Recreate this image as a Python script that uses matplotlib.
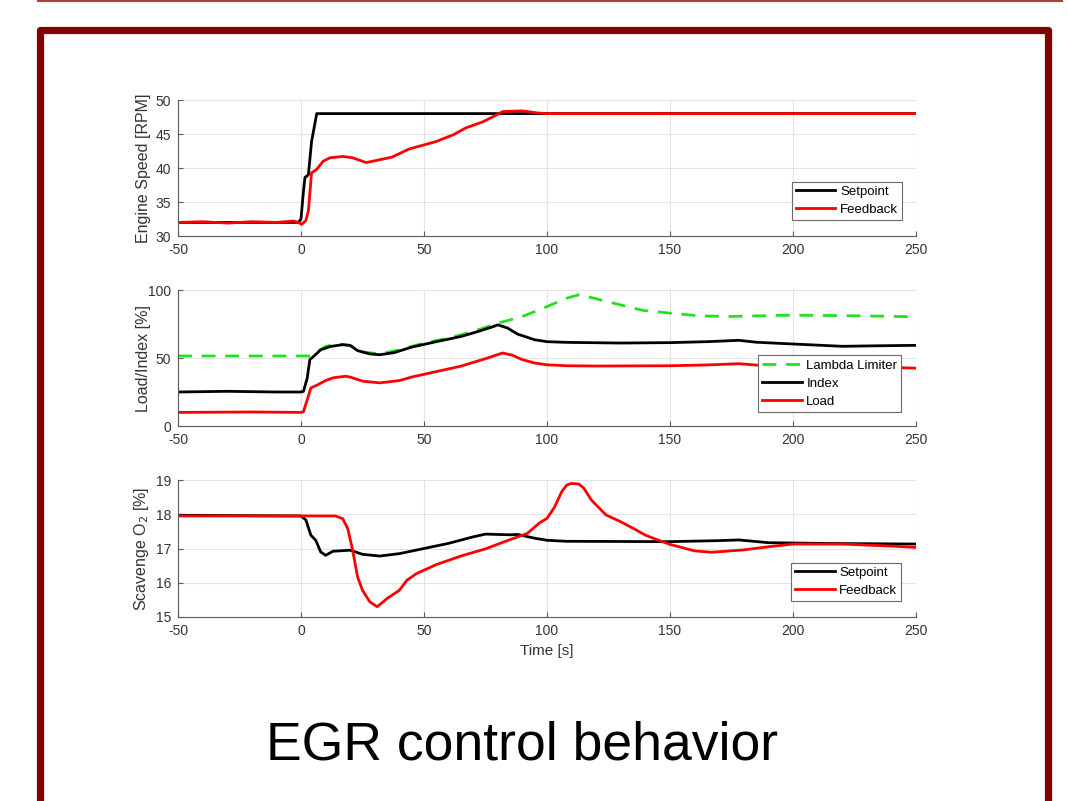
import matplotlib
matplotlib.use("Agg")
import matplotlib.pyplot as plt
from matplotlib.patches import Rectangle
from matplotlib.lines import Line2D

plt.rcParams["font.family"] = ["Liberation Sans", "DejaVu Sans"]
plt.rcParams["axes.unicode_minus"] = False

# ---------------------------------------------------------------- data
x_ticks = [-50, 0, 50, 100, 150, 200, 250]

# engine speed
t_rpm_sp = [-50, -1, 0, 1, 1.6, 3, 4.3, 6.4, 250]
rpm_sp = [32, 32, 32.5, 36.6, 38.6, 39, 43.9, 48, 48]
t_rpm_fb = [-50, -40, -30, -20, -10, -3, -1, 0.3, 2, 3, 4.3, 6.4, 9, 11.8, 17, 21,
            26.5, 30.5, 37, 44, 50, 55, 62, 67, 74, 80, 82, 90, 96, 100, 150, 200, 250]
rpm_fb = [32, 32.1, 31.9, 32.1, 32, 32.2, 32, 31.7, 32.3, 33.7, 39.3, 39.8, 41, 41.5, 41.7, 41.5,
          40.8, 41.1, 41.6, 42.8, 43.4, 43.9, 44.9, 45.9, 46.8, 47.9, 48.3, 48.4, 48.1, 48, 48, 48, 48]

# load / index
t_lam = [-50, 4, 10, 15, 20, 25, 32, 40, 50, 60, 70, 80, 90, 100, 108, 113, 119, 130,
         139, 150, 162, 173, 200, 227, 250]
lam = [51.5, 51.5, 58.5, 60.5, 59, 54.5, 53, 56, 61, 64.6, 69.5, 75.6, 80.5, 87.8, 94, 96.5, 94, 89,
       85, 83, 81, 80.5, 81.5, 81, 80.3]
t_idx = [-50, -30, -10, 0, 1, 2.5, 3.6, 5, 8, 12, 17, 20, 23, 28, 32, 38, 45, 55, 65, 72, 78,
         80, 84, 88, 95, 100, 108, 130, 150, 165, 178, 185, 200, 220, 235, 250]
idx = [25, 25.5, 25, 25, 25.5, 35, 48.8, 51, 56, 58.5, 59.8, 59.3, 55.4, 53, 52.4, 54, 58, 62, 65.8,
       69.5, 73, 74.4, 72, 67.6, 63.4, 62, 61.5, 61, 61.3, 62, 63, 61.6, 60.3, 58.6, 59, 59.3]
t_load = [-50, -20, 0, 1, 3, 4, 7, 10, 13, 18, 20, 25, 32, 40, 45, 55, 65, 75, 82, 86, 90, 95,
          100, 108, 120, 150, 165, 178, 185, 200, 225, 240, 250]
load = [10, 10.3, 10, 10.5, 22, 28, 30.5, 33.4, 35.4, 36.6, 36, 33, 31.7, 33.4, 36, 40, 44, 49.5,
        53.7, 52, 48.8, 46.3, 45, 44.3, 44.1, 44.3, 44.9, 45.8, 44.8, 44.2, 43.8, 43.1, 42.5]

# scavenge O2
t_o2_sp = [-50, 0, 2, 4, 6, 8, 10, 13, 20, 25, 32, 40, 50, 60, 70, 75, 85, 88, 95, 100, 108,
           150, 170, 178, 190, 210, 250]
o2_sp = [17.97, 17.95, 17.83, 17.39, 17.24, 16.9, 16.8, 16.92, 16.95, 16.83, 16.78, 16.85, 17.0,
         17.15, 17.34, 17.42, 17.4, 17.41, 17.3, 17.24, 17.21, 17.2, 17.23, 17.25, 17.17, 17.15, 17.13]
t_o2_fb = [-50, 14, 17, 19, 21, 23, 25, 28, 31, 35, 40, 43, 47, 55, 65, 75, 85, 92, 97, 100, 103,
           106, 108, 110, 113, 115, 118, 120, 124, 130, 135, 140, 145, 150, 160, 167, 180, 190,
           200, 220, 240, 250]
o2_fb = [17.95, 17.95, 17.87, 17.58, 16.95, 16.17, 15.78, 15.44, 15.3, 15.54, 15.78, 16.07, 16.27,
         16.53, 16.78, 16.99, 17.26, 17.44, 17.75, 17.88, 18.2, 18.66, 18.85, 18.9, 18.88, 18.76,
         18.42, 18.27, 17.98, 17.78, 17.59, 17.39, 17.25, 17.12, 16.93, 16.89, 16.96, 17.05, 17.13,
         17.13, 17.07, 17.03]

# ---------------------------------------------------------------- figure
W, H = 1068, 801
fig = plt.figure(figsize=(W / 100, H / 100), dpi=100)
fig.patch.set_facecolor("white")

# slide frame
frame = "#840000"
fig.add_artist(Line2D([38 / W, 1062 / W], [1 - 1 / H, 1 - 1 / H], color="#b04040", lw=1.5,
                      transform=fig.transFigure))
fig.add_artist(Rectangle((40 / W, -0.05), 1008 / W, 1.05 - 30.5 / H, fill=False, edgecolor=frame,
                         lw=5.2, joinstyle="round", transform=fig.transFigure))


def style_axis(ax, ylim, yticks, ylabel):
    ax.set_xlim(-50, 250)
    ax.set_ylim(*ylim)
    ax.set_xticks(x_ticks)
    ax.set_yticks(yticks)
    ax.grid(True, color="#e3e3e3", lw=0.8)
    ax.set_axisbelow(True)
    for s in ("top", "right"):
        ax.spines[s].set_visible(False)
    for s in ("left", "bottom"):
        ax.spines[s].set_color("#5a5a5a")
        ax.spines[s].set_linewidth(0.8)
    ax.tick_params(direction="in", length=3.5, width=0.8, color="#5a5a5a",
                   labelsize=10, labelcolor="#333333", pad=5)
    ax.set_ylabel(ylabel, fontsize=11.5, color="#333333")
    ax.yaxis.set_label_coords(-(178 - 151) / 738, 0.5)


def add_legend(ax, anchor):
    leg = ax.legend(loc="lower right", bbox_to_anchor=anchor, borderaxespad=0, fontsize=9.5,
                    fancybox=False, edgecolor="#6a6a6a", framealpha=1, handlelength=3.0,
                    handletextpad=0.35, labelspacing=0.45, borderpad=0.3)
    leg.get_frame().set_linewidth(0.8)


left, width = 178 / W, 738 / W
ax1 = fig.add_axes([left, 1 - 236 / H, width, 136 / H])
ax2 = fig.add_axes([left, 1 - 426 / H, width, 136 / H])
ax3 = fig.add_axes([left, 1 - 617 / H, width, 137 / H])

ax1.plot(t_rpm_sp, rpm_sp, color="black", lw=2, label="Setpoint")
ax1.plot(t_rpm_fb, rpm_fb, color="#ff0000", lw=2, label="Feedback")
style_axis(ax1, (30, 50), [30, 35, 40, 45, 50], "Engine Speed [RPM]")
add_legend(ax1, (0.981, 0.118))

ax2.plot(t_lam, lam, color="#22e022", lw=2, dashes=(5, 3.5), label="Lambda Limiter")
ax2.plot(t_idx, idx, color="black", lw=2, label="Index")
ax2.plot(t_load, load, color="#ff0000", lw=2, label="Load")
style_axis(ax2, (0, 100), [0, 50, 100], "Load/Index [%]")
add_legend(ax2, (0.98, 0.103))

ax3.plot(t_o2_sp, o2_sp, color="black", lw=2, label="Setpoint")
ax3.plot(t_o2_fb, o2_fb, color="#ff0000", lw=2, label="Feedback")
style_axis(ax3, (15, 19), [15, 16, 17, 18, 19], "Scavenge O$_2$ [%]")
ax3.set_xlabel("Time [s]", fontsize=11, color="#333333", labelpad=4)
add_legend(ax3, (0.98, 0.117))

fig.text(522 / W, 1 - 745 / H, "EGR control behavior", fontsize=38.5, ha="center", va="center",
         color="black")

fig.savefig("out.png", dpi=100, facecolor="white")
